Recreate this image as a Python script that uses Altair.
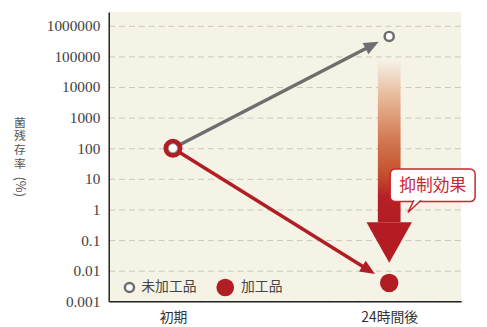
import math
import altair as alt
import pandas as pd

# ---- data ----
categories = ["初期", "24時間後"]
cat_pos = [0, 1]
untreated = [100, 450000]      # 未加工品
treated = [100, 0.004]         # 加工品
y_ticks = [0.001, 0.01, 0.1, 1, 10, 100, 1000, 10000, 100000, 1000000]
legend_labels = ["未加工品", "加工品"]
callout_text = "抑制効果"
y_title_chars = ["菌", "残", "存", "率"]
y_title_unit = "(%)"

# ---- scale geometry ----
W, H = 357, 293
XMIN, XMAX = -0.297, 1.333
LYMIN, LYMAX = -3.0, 6.4516
YMIN, YMAX = 10 ** LYMIN, 10 ** LYMAX


def px(x):
    return (x - XMIN) / (XMAX - XMIN) * W


def py(y):
    return H - (math.log10(y) - LYMIN) / (LYMAX - LYMIN) * H


def dx(p):
    return XMIN + p / W * (XMAX - XMIN)


def dy(p):
    return 10 ** (LYMIN + (H - p) / H * (LYMAX - LYMIN))


xs = alt.Scale(domain=[XMIN, XMAX], nice=False, zero=False)
ys = alt.Scale(type="log", domain=[YMIN, YMAX], nice=False)

label_expr = " : ".join(
    [f"datum.value == {p} ? '{c}'" for p, c in zip(cat_pos, categories)]
) + " : ''"

SERIF = "Liberation Serif, DejaVu Serif, Times New Roman, Times, serif"

X_AXIS = alt.Axis(values=cat_pos, labelExpr=label_expr, grid=False, ticks=False,
                  domainColor="#222", domainWidth=1.5, labelFont="Noto Sans CJK JP",
                  labelFontSize=14, labelColor="#333", labelPadding=9, title=None)
Y_AXIS = alt.Axis(values=y_ticks, format=".3~f", grid=True, gridDash=[6, 4],
                  gridColor="#c9c7bf", gridWidth=1, ticks=False, domainColor="#222",
                  domainWidth=1.5, labelFont=SERIF, labelFontSize=15.5,
                  labelColor="#3f3f3f", labelPadding=9, title=None)


def X(field="x"):
    return alt.X(f"{field}:Q", scale=xs, axis=X_AXIS)


def Y(field="y"):
    return alt.Y(f"{field}:Q", scale=ys, axis=Y_AXIS)


GRAY = "#6e6e6e"
RED = "#b21d24"
CALLOUT_RED = "#c9262e"
SERIES_COLOR = alt.Scale(domain=["g", "r"], range=[GRAY, RED])


# ---- arrow lines (start -> near end point) ----
def arrow_geom(y_start, y_end, gap, head_len):
    x0, y0 = px(cat_pos[0]), py(y_start)
    x1, y1 = px(cat_pos[1]), py(y_end)
    L = math.hypot(x1 - x0, y1 - y0)
    ux, uy = (x1 - x0) / L, (y1 - y0) / L
    tip = (x1 - ux * gap, y1 - uy * gap)
    base = (tip[0] - ux * (head_len - 2), tip[1] - uy * (head_len - 2))
    ang = math.degrees(math.atan2(uy, ux)) % 360
    return tip, base, ang


HEAD = 15
g_tip, g_base, g_ang = arrow_geom(untreated[0], untreated[1], 12, HEAD)
r_tip, r_base, r_ang = arrow_geom(treated[0], treated[1], 17, HEAD)

lines_df = pd.DataFrame({
    "x": [cat_pos[0], dx(g_base[0]), cat_pos[0], dx(r_base[0])],
    "y": [untreated[0], dy(g_base[1]), treated[0], dy(r_base[1])],
    "series": ["g", "g", "r", "r"],
})
lines = alt.Chart(lines_df).mark_line(strokeWidth=3.5).encode(
    x=X(), y=Y(), detail="series:N",
    color=alt.Color("series:N", scale=SERIES_COLOR, legend=None),
)

HEAD_PATH = "M 0 0 L -2 -0.85 L -2 0.85 Z"
heads_df = pd.DataFrame({
    "x": [dx(g_tip[0]), dx(r_tip[0])],
    "y": [dy(g_tip[1]), dy(r_tip[1])],
    "ang": [g_ang, r_ang],
    "series": ["g", "r"],
})
heads = alt.Chart(heads_df).mark_point(shape=HEAD_PATH, filled=True, size=HEAD ** 2,
                                       opacity=1, strokeWidth=0).encode(
    x=X(), y=Y(), angle=alt.Angle("ang:Q", scale=None),
    color=alt.Color("series:N", scale=SERIES_COLOR, legend=None),
)

# ---- big gradient arrow (suppression effect) ----
shaft_df = pd.DataFrame({"x": [dx(px(1) - 11.5)], "x2": [dx(px(1) + 11.5)],
                         "y": [dy(50)], "y2": [dy(213)]})
grad = {
    "gradient": "linear", "x1": 0, "y1": 0, "x2": 0, "y2": 1,
    "stops": [
        {"offset": 0.0, "color": "#f5f0e4"},
        {"offset": 0.22, "color": "#e8b998"},
        {"offset": 0.48, "color": "#d47a55"},
        {"offset": 0.70, "color": "#c4502c"},
        {"offset": 0.84, "color": "#b52126"},
        {"offset": 1.0, "color": "#b31c23"},
    ],
}
shaft = alt.Chart(shaft_df).mark_rect(color=grad).encode(
    x=X(), x2=alt.X2("x2"), y=Y(), y2=alt.Y2("y2"))

tri_df = pd.DataFrame({"x": [cat_pos[1]], "y": [dy(254)]})
tri = alt.Chart(tri_df).mark_point(shape="M 0 0 L -1.122 -2 L 1.122 -2 Z", size=41 ** 2,
                                   filled=True, opacity=1, color="#b31c23", strokeWidth=0).encode(
    x=X(), y=Y())

# ---- points ----
start_pt = alt.Chart(pd.DataFrame({"x": [cat_pos[0]], "y": [treated[0]]})).mark_point(
    shape="circle", size=200, filled=False, fill="white", fillOpacity=1, stroke=RED,
    strokeWidth=5, opacity=1).encode(x=X(), y=Y())
start_inner = alt.Chart(pd.DataFrame({"x": [cat_pos[0]], "y": [untreated[0]]})).mark_point(
    shape="circle", size=85, filled=False, fill="white", fillOpacity=1, stroke="#8a8a8a",
    strokeWidth=1, opacity=1).encode(x=X(), y=Y())
end_gray = alt.Chart(pd.DataFrame({"x": [cat_pos[1]], "y": [untreated[1]]})).mark_point(
    shape="circle", size=85, filled=False, fill="white", fillOpacity=1, stroke=GRAY,
    strokeWidth=2.5, opacity=1).encode(x=X(), y=Y())
end_red = alt.Chart(pd.DataFrame({"x": [cat_pos[1]], "y": [treated[1]]})).mark_circle(
    size=350, color=RED, opacity=1).encode(x=X(), y=Y())

# ---- callout ----
box_df = pd.DataFrame({"x": [dx(px(1) + 1)], "x2": [dx(px(1) + 87)],
                       "y": [dy(159)], "y2": [dy(192)]})
box = alt.Chart(box_df).mark_rect(fill="white", stroke=CALLOUT_RED, strokeWidth=1.5,
                                  cornerRadius=5).encode(
    x=X(), x2=alt.X2("x2"), y=Y(), y2=alt.Y2("y2"))
tail_df = pd.DataFrame({"x": [dx(px(1) + 19)], "y": [dy(203)]})
tail = alt.Chart(tail_df).mark_point(shape="M 1 -2.05 L 0 0 L 2.2 -2.05", size=144,
                                     filled=False, fill="white", fillOpacity=1,
                                     stroke=CALLOUT_RED, strokeWidth=1.5, opacity=1).encode(
    x=X(), y=Y())
callout = alt.Chart(pd.DataFrame({"x": [dx(px(1) + 44)], "y": [dy(176)], "t": [callout_text]})).mark_text(
    font="Noto Sans CJK JP", fontSize=17, color=CALLOUT_RED, align="center", baseline="middle").encode(
    x=X(), y=Y(), text="t:N")

# ---- legend (inside plot, bottom-left) ----
leg_y = dy(279)
leg_gray = alt.Chart(pd.DataFrame({"x": [dx(21)], "y": [leg_y]})).mark_point(
    shape="circle", size=85, filled=False, fill="white", fillOpacity=1, stroke=GRAY,
    strokeWidth=2.5, opacity=1).encode(x=X(), y=Y())
leg_red = alt.Chart(pd.DataFrame({"x": [dx(118)], "y": [leg_y]})).mark_circle(
    size=320, color=RED, opacity=1).encode(x=X(), y=Y())
leg_text = alt.Chart(pd.DataFrame({"x": [dx(33), dx(134)], "y": [leg_y, leg_y],
                                   "t": legend_labels})).mark_text(
    font="Noto Sans CJK JP", fontSize=14, color="#444", align="left", baseline="middle").encode(
    x=X(), y=Y(), text="t:N")

# ---- y title (vertical writing) ----
title_layers = [
    alt.Chart(pd.DataFrame({"a": [0]})).mark_text(
        text=ch, font="Noto Sans CJK JP", fontSize=12, color="#555",
        align="center", baseline="middle").encode(
        x=alt.value(-90), y=alt.value(112 + i * 14))
    for i, ch in enumerate(y_title_chars)
]
title_unit = alt.Chart(pd.DataFrame({"a": [0]})).mark_text(
    text=y_title_unit, font="Noto Sans CJK JP", fontSize=13, color="#555",
    align="center", baseline="middle", angle=90).encode(
    x=alt.value(-90), y=alt.value(177))

chart = alt.layer(
    lines, heads, shaft, tri, start_pt, start_inner, end_gray, end_red,
    box, tail, callout, leg_gray, leg_red, leg_text, *title_layers, title_unit,
).properties(
    width=W, height=H,
    background="white",
    autosize=alt.AutoSizeParams(type="none"),
    padding={"left": 102, "top": 2, "right": 18, "bottom": 24},
).configure_view(fill="#f5f2e6", strokeWidth=0)

chart.save("out.html", embed_options={"renderer": "svg", "actions": False})
